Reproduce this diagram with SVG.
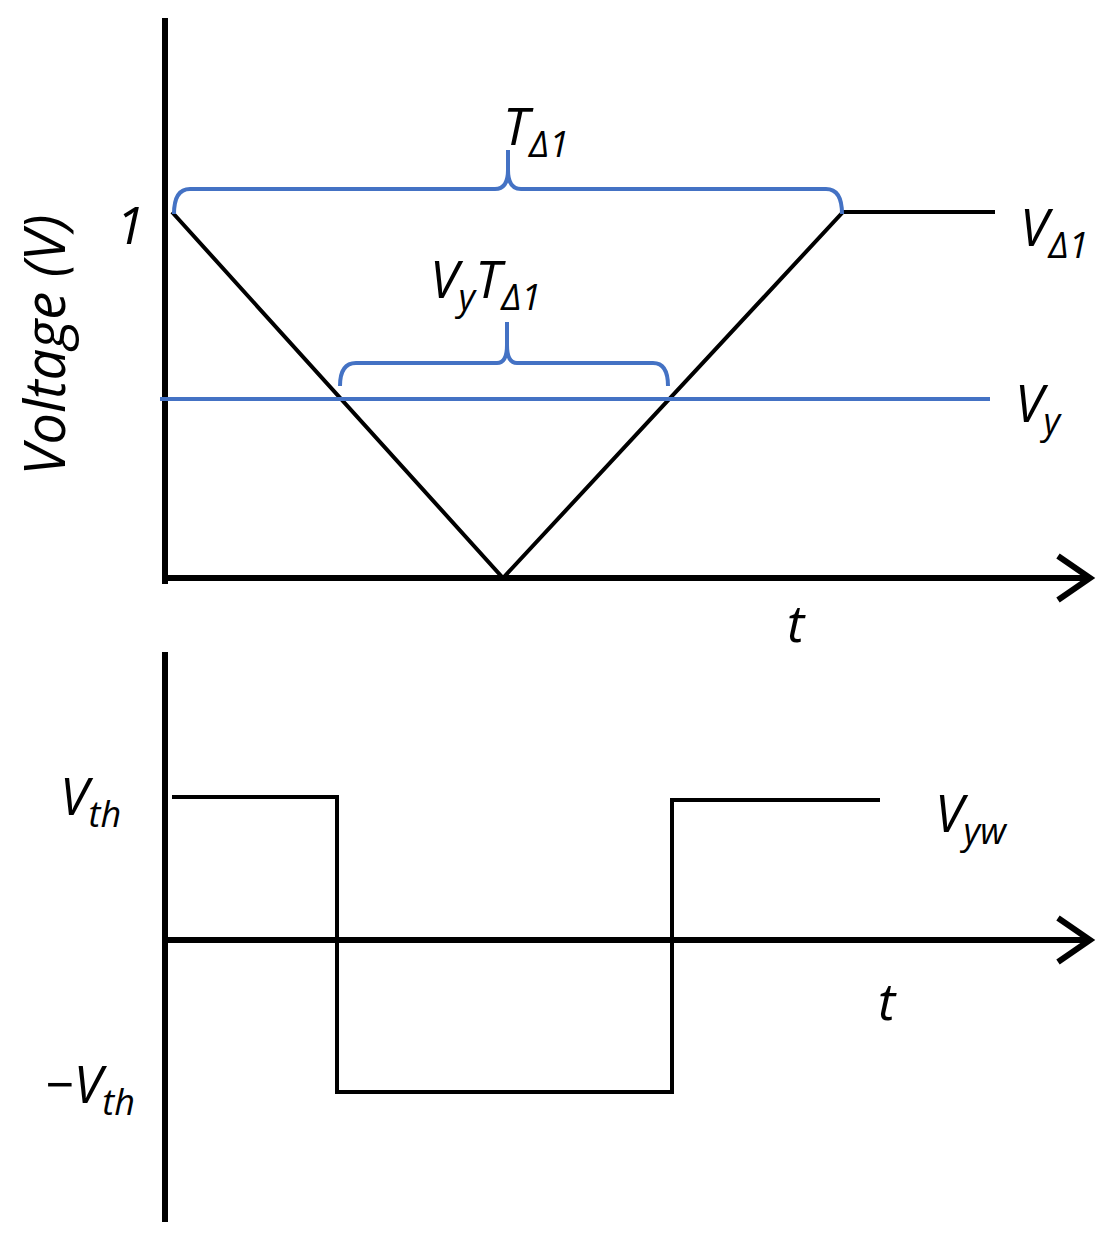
<svg xmlns="http://www.w3.org/2000/svg" width="1119" height="1236" viewBox="0 0 1119 1236">
<style>
.ax{stroke:#000;stroke-width:6;fill:none}
.k{stroke:#000;stroke-width:4;fill:none}
.b{stroke:#4472C4;stroke-width:4;fill:none}
text{font-family:"Open Sans",sans-serif;font-style:italic;font-size:52px;fill:#000}
.s{font-size:36px}
</style>
<rect width="1119" height="1236" fill="#fff"/>
<g id="top">
<path class="ax" d="M165 18V584M162 578H1088M1058 556L1090 578L1058 600"/>
<path class="k" d="M172 212L503 578L843 212H995"/>
<path class="b" d="M160 399H990"/>
<path class="b" d="M174 214Q174 189 190 189H495Q508 189 508 170V150M508 170Q508 189 521 189H826Q842 189 842 214"/>
<path class="b" d="M340 386Q340 363 356 363H497Q507 363 507 345V322M507 345Q507 363 517 363H653Q668 363 668 386"/>
<text x="116" y="244">1</text>
<text x="503" y="145">T<tspan class="s" dy="12">Δ1</tspan></text>
<text x="1020" y="246">V<tspan class="s" dy="12">Δ1</tspan></text>
<text x="430" y="298">V<tspan class="s" dy="12">y</tspan><tspan dy="-12">T</tspan><tspan class="s" dy="12">Δ1</tspan></text>
<text x="1015" y="422">V<tspan class="s" dy="12">y</tspan></text>
<text transform="translate(65 345) rotate(-90)" text-anchor="middle" style="font-size:56px">Voltage (V)</text>
<text x="787" y="642">t</text>
</g>
<g id="bottom">
<path class="ax" d="M165 652V1222M162 940H1088M1058 918L1090 940L1058 962"/>
<path class="k" d="M172 797H337V1092H672V800H880"/>
<text x="60" y="815">V<tspan class="s" dy="12">th</tspan></text>
<text x="45" y="1103">−V<tspan class="s" dy="12">th</tspan></text>
<text x="935" y="832">V<tspan class="s" dy="12">yw</tspan></text>
<text x="878" y="1020">t</text>
</g>
</svg>
